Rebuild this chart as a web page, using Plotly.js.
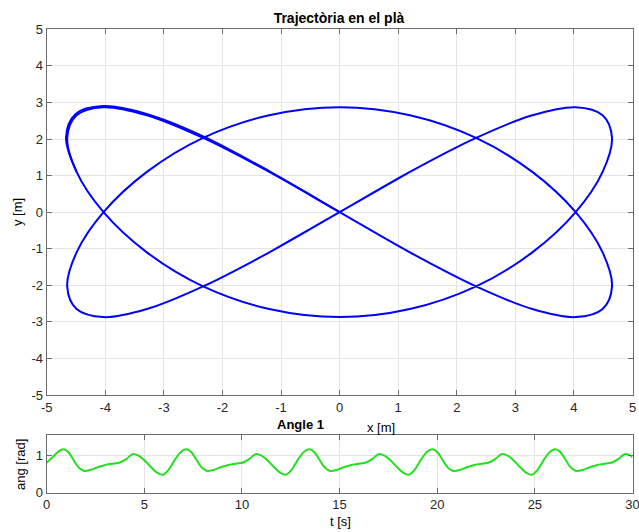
<!DOCTYPE html>
<html>
<head>
<meta charset="utf-8">
<script src="https://cdn.plot.ly/plotly-3.0.1.min.js"></script>
<style>html,body{margin:0;padding:0;background:#fff;}#chart{width:639px;height:532px;}</style>
</head>
<body>
<div id="chart"></div>
<script>
// Trajectory (x, y) in metres (main loop)
const trajX = [-1.20, 0.00, 1.20, 2.33, 3.29, 4.03, 4.49, 4.65, 4.49, 4.03, 3.29, 2.33, 1.20, 0.00, -1.20, -2.33, -3.29, -4.03,
  -4.49, -4.65, -4.49, -4.03, -3.29, -2.33, -1.20, 0.00, 1.20, 2.33, 3.29, 4.03, 4.49, 4.65, 4.49, 4.03, 3.29, 2.33, 1.20,
  0.00, -1.20, -2.33, -3.29, -4.03, -4.49, -4.65, -4.49, -4.03, -3.29, -2.33, -1.20, 0.00, 1.20];
const trajY = [-1.10, 0.00, 1.10, 2.03, 2.65, 2.87, 2.65, 2.03, 1.10, 0.00, -1.10, -2.03, -2.65, -2.87, -2.65, -2.03, -1.10, 0.00,
  1.10, 2.03, 2.65, 2.87, 2.65, 2.03, 1.10, 0.00, -1.10, -2.03, -2.65, -2.87, -2.65, -2.03, -1.10, 0.00, 1.10, 2.03, 2.65,
  2.87, 2.65, 2.03, 1.10, 0.00, -1.10, -2.03, -2.65, -2.87, -2.65, -2.03, -1.10, 0.00, 1.10];
// slightly drifted second pass over the upper-left lobe (the thick part)
const driftX = [-4.49, -4.67, -4.51, -4.04, -3.28, -2.31, -1.19, 0.00];
const driftY = [1.10, 2.04, 2.68, 2.90, 2.68, 2.06, 1.11, 0.00];

// Angle 1 versus time
const angT = [0, 0.3, 0.6,
  0.85, 1.10, 1.35, 1.60, 1.80, 1.95, 2.25, 2.65, 3.05, 3.45, 3.75, 4.05, 4.40, 4.70, 5.00, 5.35, 5.65, 5.95, 6.25, 6.60, 6.90,
  7.15, 7.40, 7.65, 7.90, 8.10, 8.25, 8.55, 8.95, 9.35, 9.75, 10.05, 10.35, 10.70, 11.00, 11.30, 11.65, 11.95, 12.25, 12.55, 12.90, 13.20,
  13.45, 13.70, 13.95, 14.20, 14.40, 14.55, 14.85, 15.25, 15.65, 16.05, 16.35, 16.65, 17.00, 17.30, 17.60, 17.95, 18.25, 18.55, 18.85, 19.20, 19.50,
  19.75, 20.00, 20.25, 20.50, 20.70, 20.85, 21.15, 21.55, 21.95, 22.35, 22.65, 22.95, 23.30, 23.60, 23.90, 24.25, 24.55, 24.85, 25.15, 25.50, 25.80,
  26.05, 26.30, 26.55, 26.80, 27.00, 27.15, 27.45, 27.85, 28.25, 28.65, 28.95, 29.25, 29.60, 29.90, 30.00];
const angV = [0.80, 0.95, 1.10,
  1.16, 1.09, 0.90, 0.70, 0.61, 0.58, 0.61, 0.69, 0.75, 0.78, 0.81, 0.89, 1.03, 0.99, 0.87, 0.68, 0.54, 0.48, 0.62, 0.91, 1.10,
  1.16, 1.09, 0.90, 0.70, 0.61, 0.58, 0.61, 0.69, 0.75, 0.78, 0.81, 0.89, 1.03, 0.99, 0.87, 0.68, 0.54, 0.48, 0.62, 0.91, 1.10,
  1.16, 1.09, 0.90, 0.70, 0.61, 0.58, 0.61, 0.69, 0.75, 0.78, 0.81, 0.89, 1.03, 0.99, 0.87, 0.68, 0.54, 0.48, 0.62, 0.91, 1.10,
  1.16, 1.09, 0.90, 0.70, 0.61, 0.58, 0.61, 0.69, 0.75, 0.78, 0.81, 0.89, 1.03, 0.99, 0.87, 0.68, 0.54, 0.48, 0.62, 0.91, 1.10,
  1.16, 1.09, 0.90, 0.70, 0.61, 0.58, 0.61, 0.69, 0.75, 0.78, 0.81, 0.89, 1.03, 0.99, 0.95];

const xTicksTop = [-5, -4, -3, -2, -1, 0, 1, 2, 3, 4, 5];
const xTickTextTop = ['-5', '-4', '-3', '-2', '-1', '0', '1', '2', '3', '4', '5'];
const yTicksTop = [-5, -4, -3, -2, -1, 0, 1, 2, 3, 4, 5];
const yTickTextTop = ['-5', '-4', '-3', '-2', '-1', '0', '1', '2', '3', '4', '5'];
const tTicks = [0, 5, 10, 15, 20, 25, 30];
const angTicks = [0, 1];

const W = 639, H = 532;
const px = v => v / W, py = v => 1 - v / H;
const FONT = 'Liberation Sans, Arial, Helvetica, sans-serif';

const axisCommon = {
  showgrid: true, gridcolor: '#e4e4e4', gridwidth: 1,
  zeroline: false, showline: true, linecolor: '#6b6b6b', linewidth: 1,
  mirror: 'ticks', ticks: 'inside', ticklen: 5, tickcolor: '#6b6b6b', tickwidth: 1,
  tickfont: {family: FONT, size: 13, color: '#262626'},
  ticklabeloverflow: 'allow',
  automargin: false,
  fixedrange: true
};

const traces = [
  {x: trajX, y: trajY, type: 'scatter', mode: 'lines', line: {color: '#0000ff', width: 2, shape: 'spline', smoothing: 1}, xaxis: 'x', yaxis: 'y', hoverinfo: 'skip'},
  {x: driftX, y: driftY, type: 'scatter', mode: 'lines', line: {color: '#0000ff', width: 2, shape: 'spline', smoothing: 1}, xaxis: 'x', yaxis: 'y', hoverinfo: 'skip'},
  {x: angT, y: angV, type: 'scatter', mode: 'lines', line: {color: '#22e01e', width: 2, shape: 'spline', smoothing: 1}, xaxis: 'x2', yaxis: 'y2', hoverinfo: 'skip'}
];

const ann = (text, x, y, opts) => Object.assign({
  text: text, xref: 'paper', yref: 'paper', x: px(x), y: py(y),
  xanchor: 'center', yanchor: 'middle', showarrow: false,
  font: {family: FONT, size: 13, color: '#000'}
}, opts || {});

const layout = {
  width: W, height: H,
  margin: {l: 0, r: 0, t: 0, b: 0, autoexpand: false},
  paper_bgcolor: '#ffffff', plot_bgcolor: '#ffffff',
  showlegend: false,
  title: {text: '<b>Trajectòria en el plà</b>', x: px(339), xanchor: 'center', y: py(18), yanchor: 'middle', font: {family: FONT, size: 14, color: '#000'}},
  xaxis: Object.assign({}, axisCommon, {domain: [px(46.7), px(632.5)], range: [-5, 5], tickvals: xTicksTop, ticktext: xTickTextTop, anchor: 'y'}),
  yaxis: Object.assign({}, axisCommon, {domain: [py(395), py(29.3)], range: [-5, 5], tickvals: yTicksTop, ticktext: yTickTextTop, anchor: 'x'}),
  xaxis2: Object.assign({}, axisCommon, {domain: [px(46.7), px(632.5)], range: [0, 30], tickvals: tTicks, anchor: 'y2'}),
  yaxis2: Object.assign({}, axisCommon, {domain: [py(492.8), py(434.7)], range: [0, 1.55], tickvals: angTicks, anchor: 'x2'}),
  annotations: [
    ann('x [m]', 381, 427),
    ann('<b>Angle 1</b>', 300, 424),
    ann('t [s]', 340, 521),
    ann('y [m]', 17, 212, {textangle: -90}),
    ann('ang [rad]', 20, 465, {textangle: -90})
  ]
};

Plotly.newPlot('chart', traces, layout, {staticPlot: true, displayModeBar: false});
</script>
</body>
</html>
